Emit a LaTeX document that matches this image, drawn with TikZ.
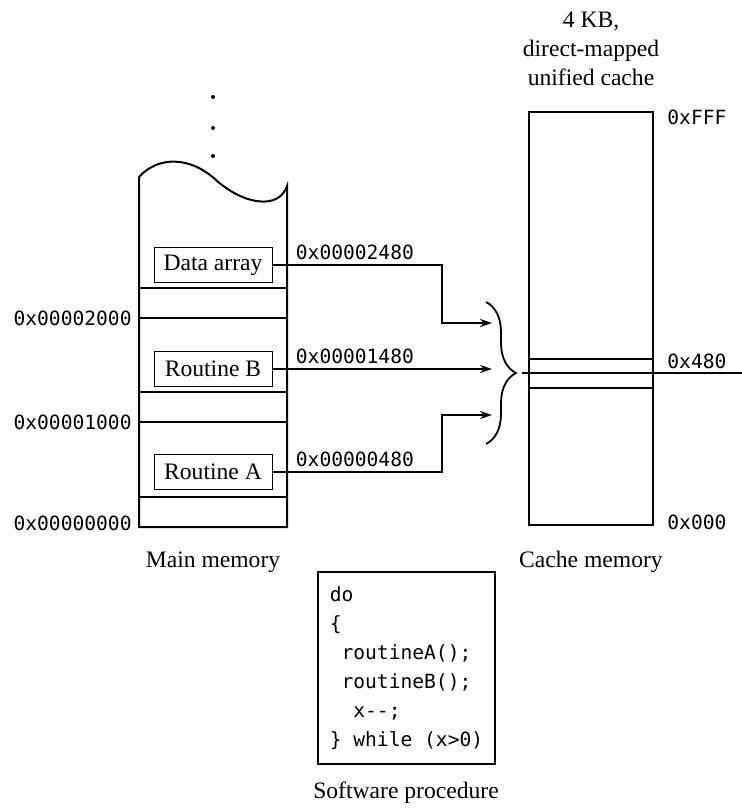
\documentclass[tikz,border=0pt]{standalone}
\usepackage{fontspec}
\setmainfont{Liberation Serif}
\setmonofont{DejaVu Sans Mono}
\usepackage{tikz}
\usetikzlibrary{arrows.meta, decorations.pathreplacing}

\tikzset{
  txt/.style={font=\fontsize{11.8}{14.5}\selectfont, inner sep=0pt},
  addr/.style={font=\ttfamily\fontsize{9.8}{12}\selectfont, inner sep=0pt},
  block/.style={draw, line width=0.5pt, minimum width=59pt, minimum height=17.5pt,
                inner sep=0pt, font=\fontsize{11.8}{14}\selectfont},
  wall/.style={line width=1pt},
  link/.style={->, line width=0.6pt},
}

\begin{document}
\begin{tikzpicture}[x=0.5pt, y=-0.5pt, >={Stealth[length=6pt,width=4pt]}]
  \useasboundingbox (0,0) rectangle (742,809);

  % ---------- main memory ----------
  \fill (213,97) circle (1pt);
  \fill (213,128) circle (1pt);
  \fill (213,156) circle (1pt);
  \draw[wall] (139,177) .. controls (158,156) and (190,156) .. (216,180)
              .. controls (244,205) and (279,210) .. (287,186)
              -- (287,527) -- (139,527) -- cycle;
  \foreach \y in {288,318,392,422,497}
    \draw[wall] (139,\y) -- (287,\y);

  % blocks stored in memory
  \node[block] (data)  at (213,265) {Data array};
  \node[block] (routB) at (213,369) {Routine B};
  \node[block] (routA) at (213,472) {Routine A};

  % memory addresses
  \node[addr, anchor=east] (m2) at (132,318) {0x00002000};
  \node[addr, anchor=east] (m1) at (132,422) {0x00001000};
  \node[addr, anchor=east] (m0) at (132,523) {0x00000000};
  \node[txt] (mainlbl) at (213,562) {Main memory};

  % ---------- cache memory ----------
  \draw[wall] (529,112) rectangle (653,525);
  \draw[wall] (529,359) -- (653,359);
  \draw[wall] (529,388) -- (653,388);
  \coordinate (lineL) at (522,373);
  \coordinate (lineR) at (742,373);
  \draw[wall] (lineL) -- (lineR);
  \node[addr, anchor=west] (cF) at (667,117) {0xFFF};
  \node[addr, anchor=west] (c4) at (667,361) {0x480};
  \node[addr, anchor=west] (c0) at (667,522) {0x000};
  \node[txt, align=center] (title) at (591,49) {4 KB,\\direct-mapped\\unified cache};
  \node[txt] (cachelbl) at (591,562) {Cache memory};

  % ---------- mapping ----------
  \coordinate (bend) at (442,0);
  \coordinate (inD) at (492,323);
  \coordinate (inB) at (492,369);
  \coordinate (inA) at (492,415);
  \draw[link] (data.east) -| (bend |- inD) -- (inD);
  \draw[link] (routB.east) -- (inB);
  \draw[link] (routA.east) -| (bend |- inA) -- (inA);
  \node[addr, anchor=base west] (aD) at ([shift={(11.5pt,3pt)}]data.east) {0x00002480};
  \node[addr, anchor=base west] (aB) at ([shift={(11.5pt,3pt)}]routB.east) {0x00001480};
  \node[addr, anchor=base west] (aA) at ([shift={(11.5pt,3pt)}]routA.east) {0x00000480};
  \draw[line width=0.9pt, decorate,
        decoration={brace, amplitude=15pt}] (486,302) -- (486,444);

  % ---------- software procedure ----------
  \node[draw, line width=0.8pt, minimum width=88.5pt, minimum height=96pt,
        align=left, font=\ttfamily\fontsize{9.8}{14.5}\selectfont] (code) at (406.5,668)
    {do\\\{\\\phantom{x}routineA();\\\phantom{x}routineB();\\\phantom{xx}x--;\\\} while (x>0)};
  \node[txt] (codelbl) at (406,793) {Software procedure};
\end{tikzpicture}
\end{document}
